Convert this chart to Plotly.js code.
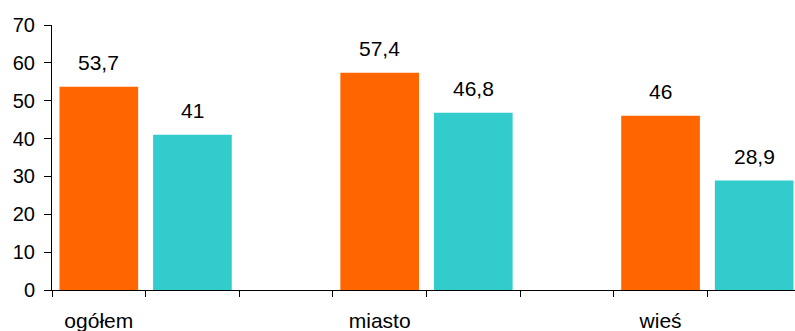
<!DOCTYPE html>
<html>
<head>
<meta charset="utf-8">
<script src="https://cdn.plot.ly/plotly-3.0.1.min.js"></script>
<style>html,body{margin:0;padding:0;background:#fff;}#chart{width:795px;height:331px;}</style>
</head>
<body>
<div id="chart"></div>
<script>
const categories = ['ogółem', 'miasto', 'wieś'];
const seriesA = [53.7, 57.4, 46];
const seriesB = [41, 46.8, 28.9];
const yTicks = [0, 10, 20, 30, 40, 50, 60, 70];

const colorA = '#FF6600';
const colorB = '#33CCCC';
const FONT = '"Liberation Sans", Arial, sans-serif';

// Each category occupies three slots: bar A, bar B, empty gap
const xA = categories.map((c, i) => 3 * i + 1);
const xB = categories.map((c, i) => 3 * i + 2);
const fmt = v => String(v).replace('.', ',');

const traces = [
  {type: 'bar', x: xA, y: seriesA, marker: {color: colorA}, width: 0.84, hoverinfo: 'y', showlegend: false},
  {type: 'bar', x: xB, y: seriesB, marker: {color: colorB}, width: 0.84, hoverinfo: 'y', showlegend: false}
];

const annotations = [];
[[xA, seriesA], [xB, seriesB]].forEach(([xs, ys]) => {
  xs.forEach((x, i) => {
    annotations.push({
      x: x, y: ys[i], xref: 'x', yref: 'y', text: fmt(ys[i]),
      showarrow: false, yanchor: 'middle', xanchor: 'center', yshift: 24,
      font: {family: FONT, size: 21, color: '#000'}
    });
  });
});

const layout = {
  width: 795, height: 331,
  margin: {l: 52, r: 0, t: 25, b: 41, pad: 0},
  paper_bgcolor: '#fff', plot_bgcolor: '#fff',
  barmode: 'overlay',
  font: {family: FONT, size: 20, color: '#000'},
  xaxis: {
    range: [0.5, 8.436],
    tickmode: 'array', tickvals: xA, ticktext: categories,
    ticks: '', showgrid: false, zeroline: false,
    showline: true, linecolor: '#000', linewidth: 1,
    ticklabelstandoff: 12,
    tickfont: {family: FONT, size: 21, color: '#000'},
    minor: {tick0: 0.5, dtick: 1, ticks: 'outside', ticklen: 6, tickcolor: '#000', tickwidth: 1, showgrid: false}
  },
  yaxis: {
    range: [0, 70], tickmode: 'array', tickvals: yTicks,
    ticks: 'outside', ticklen: 7, tickcolor: '#000', tickwidth: 1,
    showgrid: false, zeroline: false,
    showline: true, linecolor: '#000', linewidth: 1,
    ticklabelstandoff: 5,
    tickfont: {family: FONT, size: 20, color: '#000'}
  },
  annotations: annotations
};

Plotly.newPlot('chart', traces, layout, {displayModeBar: false, staticPlot: true});
</script>
</body>
</html>
